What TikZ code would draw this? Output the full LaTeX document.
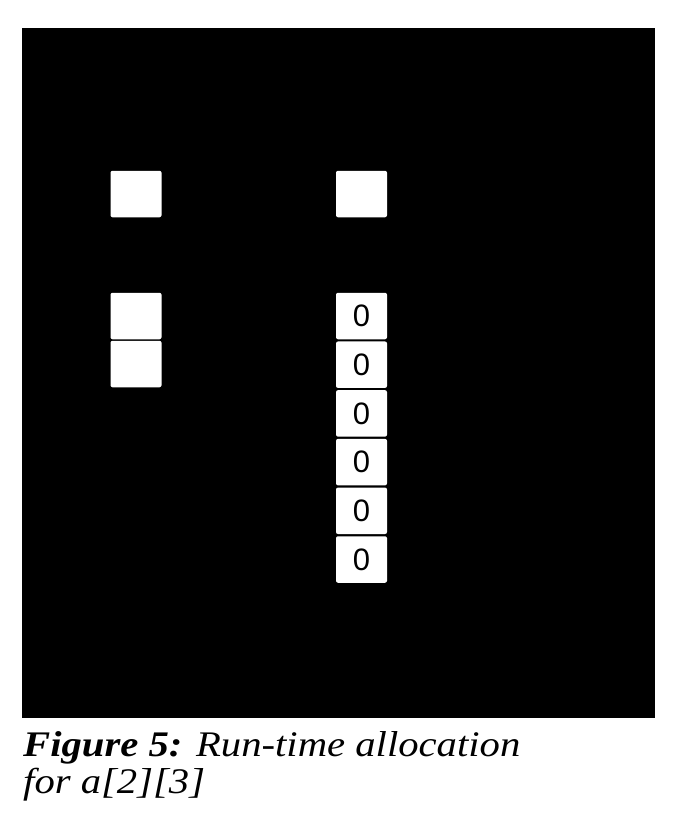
\documentclass[tikz,border=0pt]{standalone}
\usepackage{fontspec}
\setmainfont{Liberation Serif}
\newfontfamily\cellfont{Liberation Sans}
\newfontfamily\capfont[FakeStretch=1.13]{Liberation Serif}
\usepackage{tikz}

\begin{document}
\begin{tikzpicture}[x=1pt,y=-1pt,inner sep=0pt]
	\tikzstyle{cell}=[fill=white,rounded corners=2pt,minimum width=51pt,minimum height=46.5pt,font=\cellfont\fontsize{31}{31}\selectfont]
	\tikzstyle{caption}=[anchor=base west,font=\capfont\fontsize{36}{36}\selectfont\itshape]
	
	\useasboundingbox (0,0) rectangle (672,816);
	\fill[black] (22,28) rectangle (655,718);
	
	\node[cell] (p_0) at (136,194) {};
	\node[cell] (p_1) at (361.5,194) {};
	
	\node[cell] (a_0) at (136,316) {};
	\node[cell] (a_1) at (136,364) {};
	\foreach \i in {0,...,5}
		\node[cell] (v_\i) at (361.5,316+48.7*\i) {0};
	
	\node[caption] (cap_0) at (23,756) {{\bfseries Figure 5:} Run-time allocation};
	\node[caption] (cap_1) at (23,793) {for a[2][3]};
\end{tikzpicture}
\end{document}
